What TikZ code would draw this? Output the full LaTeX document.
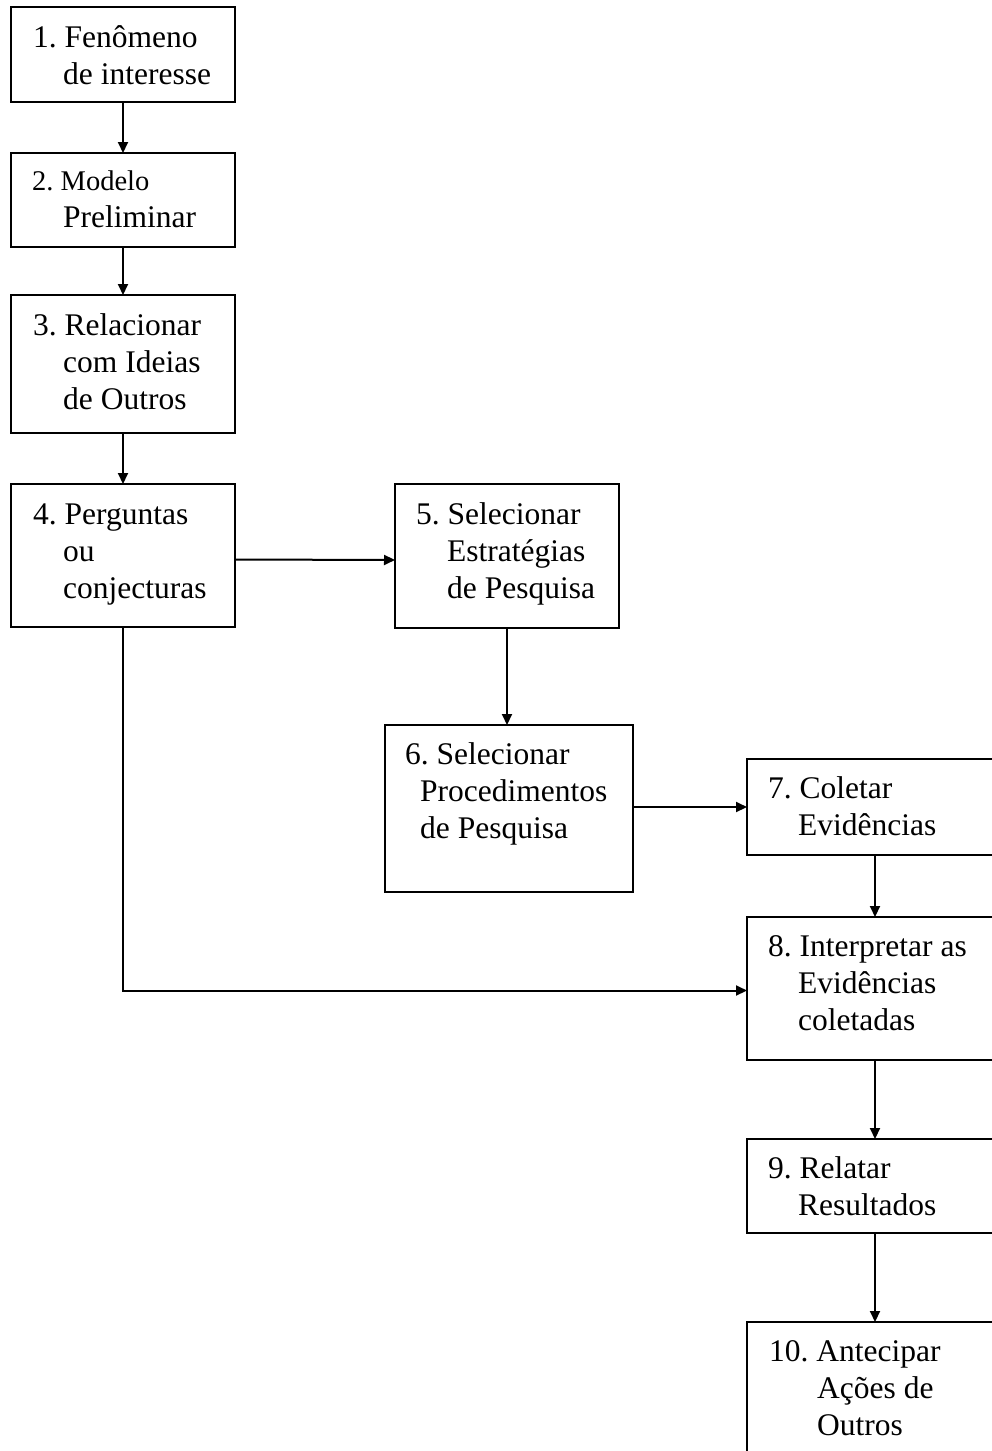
\documentclass[tikz,border=0pt]{standalone}
\usepackage{fontspec}
\setmainfont{Liberation Serif}
\usetikzlibrary{arrows.meta}
\newcommand{\ind}[1]{\hspace*{#1pt}}
\frenchspacing
\begin{document}
\begin{tikzpicture}[x=1pt,y=-1pt,
  box/.style={draw,line width=2pt,rectangle,anchor=north west,inner sep=0pt,outer sep=0pt},
  txt/.style={anchor=base west,inner sep=0pt,font=\fontsize{31.5}{37}\selectfont\frenchspacing},
  arr/.style={line width=2pt,-{Triangle[length=11pt,width=10pt]}}]
\clip (0,0) rectangle (992,1451);
\fill[white] (0,0) rectangle (992,1451);
% boxes
\node[box,minimum width=224pt,minimum height=95pt] (b1) at (11,7) {};
\node[box,minimum width=224pt,minimum height=94pt] (b2) at (11,153) {};
\node[box,minimum width=224pt,minimum height=138pt] (b3) at (11,295) {};
\node[box,minimum width=224pt,minimum height=143pt] (b4) at (11,484) {};
\node[box,minimum width=224pt,minimum height=144pt] (b5) at (395,484) {};
\node[box,minimum width=248pt,minimum height=167pt] (b6) at (385,725) {};
\node[box,minimum width=256pt,minimum height=96pt] (b7) at (747,759) {};
\node[box,minimum width=256pt,minimum height=143pt] (b8) at (747,917) {};
\node[box,minimum width=256pt,minimum height=94pt] (b9) at (747,1139) {};
\node[box,minimum width=256pt,minimum height=160pt] (b10) at (747,1322) {};
% texts
\node[txt] (t1) at (33,47) {\begin{tabular}[t]{@{}l@{}}1. Fenômeno\\\ind{30}de interesse\end{tabular}};
\node[txt] (t2) at (32,190) {\begin{tabular}[t]{@{}l@{}}{\fontsize{28.5}{37}\selectfont 2. Modelo}\\\ind{31}Preliminar\end{tabular}};
\node[txt] (t3) at (33,335) {\begin{tabular}[t]{@{}l@{}}3. Relacionar\\\ind{30}com Ideias\\\ind{30}de Outros\end{tabular}};
\node[txt] (t4) at (33,524) {\begin{tabular}[t]{@{}l@{}}4. Perguntas\\\ind{30}ou\\\ind{30}conjecturas\end{tabular}};
\node[txt] (t5) at (416,524) {\begin{tabular}[t]{@{}l@{}}5. Selecionar\\\ind{31}Estratégias\\\ind{31}de Pesquisa\end{tabular}};
\node[txt] (t6) at (405,764) {\begin{tabular}[t]{@{}l@{}}6. Selecionar\\\ind{15}Procedimentos\\\ind{15}de Pesquisa\end{tabular}};
\node[txt] (t7) at (768,798) {\begin{tabular}[t]{@{}l@{}}7. Coletar\\\ind{30}Evidências\end{tabular}};
\node[txt] (t8) at (768,956) {\begin{tabular}[t]{@{}l@{}}8. Interpretar as\\\ind{30}Evidências\\\ind{30}coletadas\end{tabular}};
\node[txt] (t9) at (768,1178) {\begin{tabular}[t]{@{}l@{}}9. Relatar\\\ind{30}Resultados\end{tabular}};
\node[txt] (t10) at (769,1361) {\begin{tabular}[t]{@{}l@{}}10. Antecipar\\\ind{48}Ações de\\\ind{48}Outros\end{tabular}};
% connectors
\draw[arr] (b1.south) -- (b2.north);
\draw[arr] (b2.south) -- (b3.north);
\draw[arr] (b3.south) -- (b4.north);
\draw[arr] ([yshift=-4pt]b4.east) -- ([yshift=-4pt]b5.west);
\draw[arr] (b5.south) -- (b5.south |- b6.north);
\draw[arr] (b6.east |- b7.west) -- (b7.west);
\draw[arr] (b7.south) -- (b8.north);
\draw[arr] (b4.south) |- ([yshift=-2pt]b8.west);
\draw[arr] (b8.south) -- (b9.north);
\draw[arr] (b9.south) -- (b10.north);
\end{tikzpicture}
\end{document}
